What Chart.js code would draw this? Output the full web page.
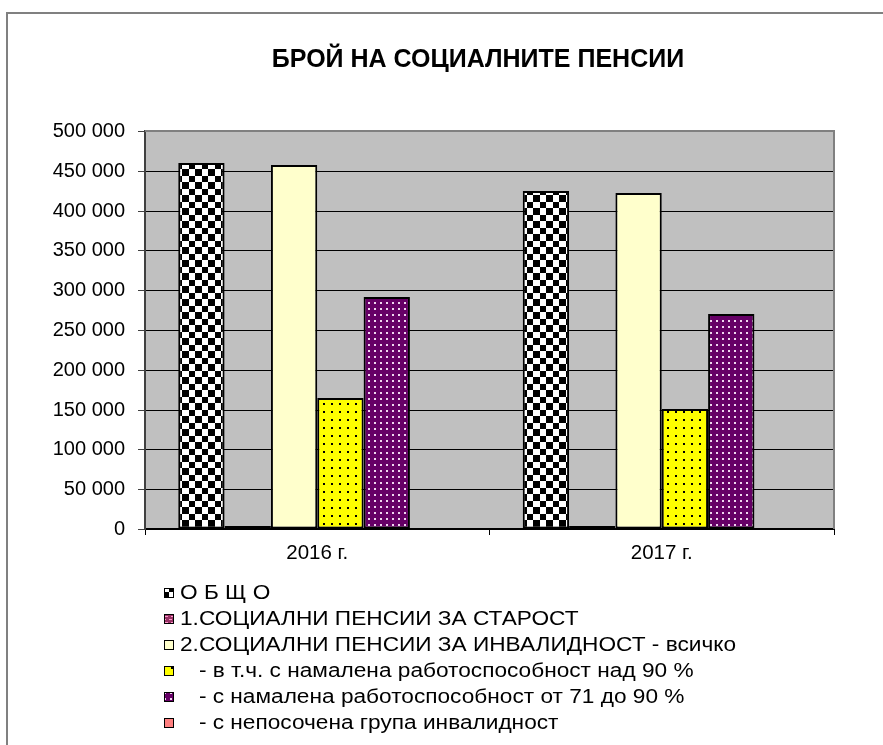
<!DOCTYPE html>
<html>
<head>
<meta charset="utf-8">
<script src="https://cdn.jsdelivr.net/npm/chart.js@4"></script>
<style>
  body{margin:0;background:#fff;}
  .wrap{position:relative;width:883px;height:745px;overflow:hidden;}
  .frame{position:absolute;left:6px;top:12px;width:900px;height:800px;border-top:2px solid #808080;border-left:2px solid #808080;}
  canvas{position:absolute;left:0;top:0;}
</style>
</head>
<body>
<div class="wrap">
  <div class="frame"></div>
  <canvas id="chart" width="883" height="745"></canvas>
</div>
<script>
// Chart data
const chartTitle = 'БРОЙ НА СОЦИАЛНИТЕ ПЕНСИИ';
const categories = ['2016 г.', '2017 г.'];
const seriesNames = [
  'О Б Щ О',
  '1.СОЦИАЛНИ ПЕНСИИ ЗА СТАРОСТ',
  '2.СОЦИАЛНИ ПЕНСИИ ЗА ИНВАЛИДНОСТ - всичко',
  '   - в т.ч. с намалена работоспособност над 90 %',
  '   - с намалена работоспособност от 71 до 90 %',
  '   - с непосочена група инвалидност'
];
const totalAll = [460100, 424900];
const oldAge = [3800, 3400];
const disabilityAll = [457200, 421600];
const over90 = [164900, 150500];
const from71to90 = [291500, 270600];
const unspecified = [300, 300];
const yTicks = [0, 50000, 100000, 150000, 200000, 250000, 300000, 350000, 400000, 450000, 500000];

const FONT = '"Liberation Sans", Arial, sans-serif';

// pattern helpers
function makePattern(w, h, draw){
  const c = document.createElement('canvas');
  c.width = w; c.height = h;
  const g = c.getContext('2d');
  draw(g);
  return document.getElementById('chart').getContext('2d').createPattern(c, 'repeat');
}
const checker = makePattern(13, 13, g=>{
  g.fillStyle = '#fff'; g.fillRect(0,0,13,13);
  g.fillStyle = '#000'; g.fillRect(0,0,7,7); g.fillRect(7,7,6,6);
});
const maroonDash = makePattern(6, 6, g=>{
  g.fillStyle = '#993366'; g.fillRect(0,0,6,6);
  g.fillStyle = '#ff99cc'; g.fillRect(1,1,3,1); g.fillRect(3,4,3,1);
});
const yellowDots = makePattern(8, 8, g=>{
  g.fillStyle = '#ffff00'; g.fillRect(0,0,8,8);
  g.fillStyle = '#000'; g.fillRect(3,3,2,2);
});
const purpleDots = makePattern(6, 6, g=>{
  g.fillStyle = '#660066'; g.fillRect(0,0,6,6);
  g.fillStyle = '#f0d8f0'; g.fillRect(2,2,2,2);
});

const seriesValues = [totalAll, oldAge, disabilityAll, over90, from71to90, unspecified];
const seriesFills = [checker, maroonDash, '#ffffcc', yellowDots, purpleDots, '#ff8080'];

const fmt = v => String(v).replace(/\B(?=(\d{3})+(?!\d))/g, ' ');

// plot background, plot border, title and legend
const decor = {
  id: 'decor',
  beforeDraw(chart){
    const {ctx, chartArea:a} = chart;
    ctx.save();
    ctx.fillStyle = '#c0c0c0';
    ctx.fillRect(a.left, a.top, a.right - a.left, a.bottom - a.top);
    ctx.restore();
  },
  afterDraw(chart){
    const {ctx, chartArea:a} = chart;
    ctx.save();
    ctx.strokeStyle = '#808080'; ctx.lineWidth = 2;
    ctx.beginPath();
    ctx.moveTo(a.left, a.top); ctx.lineTo(a.right, a.top); ctx.lineTo(a.right, a.bottom);
    ctx.stroke();

    ctx.fillStyle = '#000';
    ctx.font = 'bold 25px ' + FONT;
    ctx.textAlign = 'center'; ctx.textBaseline = 'middle';
    ctx.fillText(chartTitle, 478, 60);

    ctx.textAlign = 'left';
    chart.data.datasets.forEach((ds, i)=>{
      const y = 593 + i*26;
      ctx.fillStyle = ds.backgroundColor;
      ctx.fillRect(164, y-5, 10, 10);
      ctx.strokeStyle = '#000'; ctx.lineWidth = 1;
      ctx.strokeRect(164.5, y-4.5, 9, 9);
      // legend text is a little wider in the original
      ctx.save();
      ctx.translate(180, y);
      ctx.scale(1.133, 1);
      ctx.font = '20px ' + FONT;
      ctx.fillStyle = '#000';
      ctx.fillText(ds.label, 0, 0);
      ctx.restore();
    });
    ctx.restore();
  }
};

new Chart(document.getElementById('chart'), {
  type: 'bar',
  data: {
    labels: categories,
    datasets: seriesValues.map((vals, i)=>({
      label: seriesNames[i],
      data: vals,
      backgroundColor: seriesFills[i],
      borderColor: '#000',
      borderWidth: 2,
      borderSkipped: false,
      categoryPercentage: 0.807,
      barPercentage: 1
    }))
  },
  options: {
    responsive: false,
    animation: false,
    layout: { padding: { left: 0, top: 131, right: 49, bottom: 0 } },
    plugins: { legend: { display: false }, title: { display: false }, tooltip: { enabled: false } },
    scales: {
      x: {
        afterFit: s => { s.height = 216; },
        grid: { offset: true, drawOnChartArea: false, drawTicks: true, tickLength: 6, color: '#000', lineWidth: 1 },
        border: { color: '#000', width: 2 },
        ticks: { color: '#000', padding: 6, font: { family: FONT, size: 20.5 } }
      },
      y: {
        min: 0, max: 500000,
        alignToPixels: true,
        afterFit: s => { s.width = 145; },
        afterBuildTicks: s => { s.ticks = yTicks.map(v => ({ value: v })); },
        grid: {
          color: c => (c.tick && c.tick.value === 500000) ? '#808080' : '#000',
          tickColor: '#404040', tickLength: 7, lineWidth: 1
        },
        border: { color: '#404040', width: 2 },
        ticks: { color: '#000', padding: 13, font: { family: FONT, size: 20 }, callback: v => fmt(v) }
      }
    }
  },
  plugins: [decor]
});
</script>
</body>
</html>
